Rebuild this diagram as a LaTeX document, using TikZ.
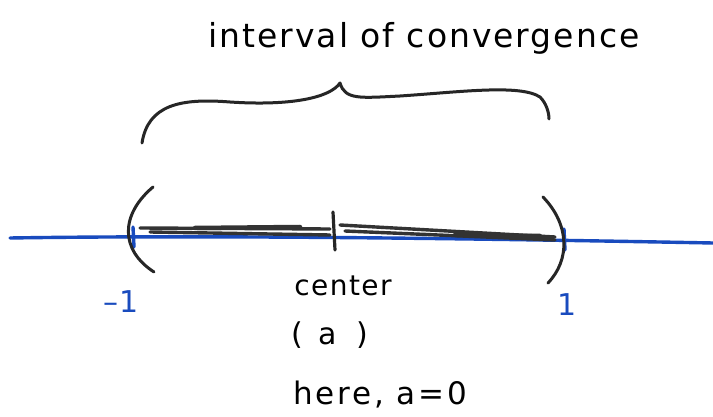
\documentclass[tikz,border=0pt]{standalone}
\usepackage{fontspec}
\setmainfont{DejaVu Sans}
\definecolor{pen}{RGB}{25,75,190}
\begin{document}
\begin{tikzpicture}[x=1pt,y=-1pt,
  ink/.style={line width=3pt,line cap=round,line join=round,color=black!85},
  blueink/.style={line width=3.4pt,line cap=round,color=pen},
  hatch/.style={line width=3.4pt,line cap=round,color=black!80},
  lbl/.style={inner sep=0pt,font=\fontsize{30}{34}\selectfont\addfontfeature{LetterSpace=5}}]
\useasboundingbox (0,0) rectangle (713,417);
\fill[white] (0,0) rectangle (713,417);
% number line
\coordinate (L) at (10,238);
\coordinate (R) at (713,243);
\draw[blueink] (L) .. controls (200,235) and (450,238) .. (R);
% hatched interval
\draw[hatch] (140,228) -- (330,229);
\draw[hatch] (150,232) -- (330,235);
\draw[hatch,line width=4.5pt] (195,228) -- (300,227);
\draw[hatch] (340,225) -- (555,237);
\draw[hatch] (345,231) -- (555,240);
\draw[hatch,line width=4.5pt] (455,235) -- (540,236);
% center tick
\coordinate (ct) at (333,212);
\coordinate (cb) at (335,250);
\draw[ink,line width=3.2pt] (ct) -- (cb);
% endpoint ticks
\draw[blueink] (133,227) -- (134,247);
\draw[blueink] (564,229) -- (565,250);
% parentheses
\draw[ink] (153,187) .. controls (120,215) and (120,250) .. (154,272);
\draw[ink] (543,197) .. controls (570,225) and (570,260) .. (548,283);
% brace
\draw[ink] (142,143) .. controls (148,105) and (180,98) .. (230,102)
  .. controls (290,106) and (330,98) .. (340,83)
  .. controls (345,100) and (360,98) .. (400,96)
  .. controls (460,92) and (520,84) .. (540,97)
  .. controls (546,103) and (549,112) .. (549,119);
% labels
\node[lbl,font=\fontsize{33}{36}\selectfont\addfontfeature{LetterSpace=6}] (title) at (424,38) {interval of convergence};
\node[lbl,font=\fontsize{28}{32}\selectfont\addfontfeature{LetterSpace=5}] (center) at (343,286) {center};
\node[lbl] (a) at (330,335) {(\,\,\,a\,\,\,\,)};
\node[lbl,font=\fontsize{31}{36}\selectfont\addfontfeature{LetterSpace=9}] (here) at (380,395) {here, a=0};
\node[lbl,text=pen] (m1) at (121,302) {–1};
\node[lbl,text=pen] (p1) at (567,305) {1};
\end{tikzpicture}
\end{document}
